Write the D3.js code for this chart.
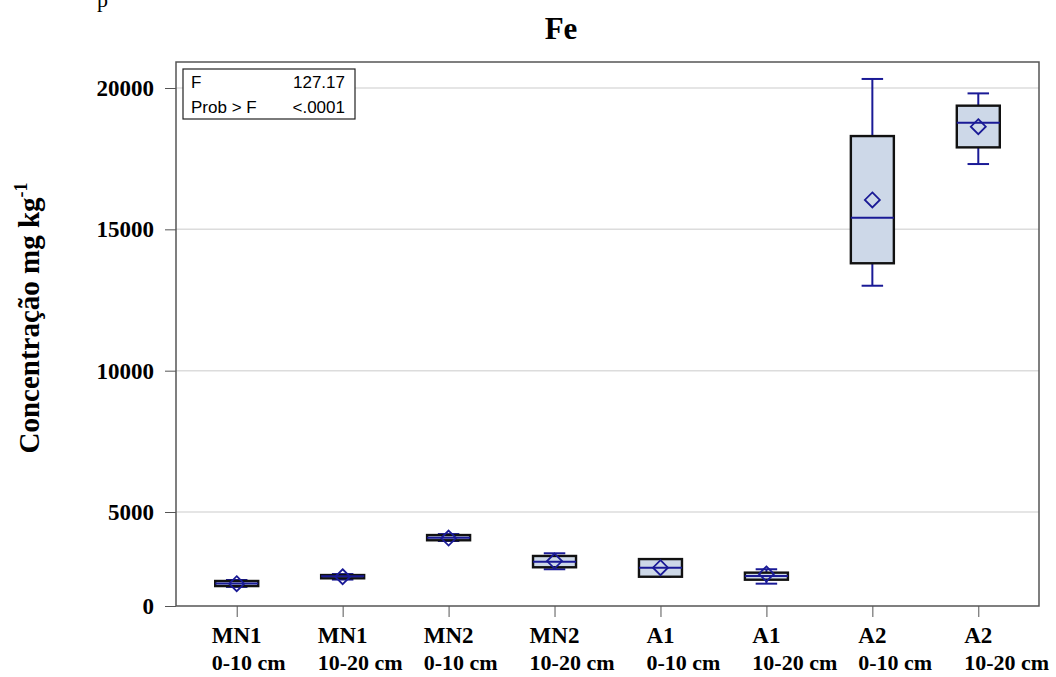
<!DOCTYPE html>
<html>
<head>
<meta charset="utf-8">
<script src="https://cdn.jsdelivr.net/npm/d3@7"></script>
<style>
  body { margin: 0; background: #fff; }
  svg { display: block; }
</style>
</head>
<body>
<div id="chart"></div>
<script>
// Box plot data (mg/kg)
var sites = ["MN1", "MN1", "MN2", "MN2", "A1", "A1", "A2", "A2"];
var depths = ["0-10 cm", "10-20 cm", "0-10 cm", "10-20 cm", "0-10 cm", "10-20 cm", "0-10 cm", "10-20 cm"];
var whiskerLow  = [2350, 2610, 3975, 2975, 2710, 2465, 13005, 17310];
var q1          = [2380, 2655, 4000, 3045, 2710, 2605, 13800, 17900];
var medians     = [2470, 2725, 4090, 3240, 3030, 2735, 15410, 18770];
var q3          = [2560, 2770, 4185, 3445, 3335, 2855, 18300, 19375];
var whiskerHigh = [2595, 2805, 4220, 3540, 3335, 2975, 20320, 19810];
var means       = [2465, 2710, 4080, 3265, 3030, 2810, 16040, 18630];

var yTicks = [5000, 10000, 15000, 20000];
var yMin = 1675, yMax = 20920;
var statLabels = ["F", "Prob > F"];
var statValues = ["127.17", "<.0001"];

var svgWidth = 1056;
var svgHeight = 677;
var margin = { top: 62, right: 17, bottom: 71, left: 176 };
var width = svgWidth - margin.left - margin.right;
var height = svgHeight - margin.top - margin.bottom;

var svg = d3.select("#chart")
  .append("svg")
  .attr("width", svgWidth)
  .attr("height", svgHeight);

// text fragment cut by the top edge, as in the source figure
svg.append("text")
  .attr("x", 97).attr("y", 7)
  .attr("font-family", "Liberation Serif")
  .attr("font-size", 22)
  .text("p");

svg.append("text")
  .attr("x", 561).attr("y", 39)
  .attr("text-anchor", "middle")
  .attr("font-family", "Liberation Serif")
  .attr("font-weight", "bold")
  .attr("font-size", 31)
  .text("Fe");

var chartGroup = svg.append("g")
  .attr("transform", `translate(${margin.left}, ${margin.top})`);

var x = d3.scalePoint()
  .domain(d3.range(sites.length))
  .range([0, width])
  .padding(0.573);

var y = d3.scaleLinear()
  .domain([yMin, yMax])
  .range([height, 0]);

// grid lines
chartGroup.selectAll(".grid")
  .data(yTicks)
  .enter()
  .append("line")
  .attr("x1", 0).attr("x2", width)
  .attr("y1", d => y(d)).attr("y2", d => y(d))
  .attr("stroke", "#dcdcdc")
  .attr("stroke-width", 1.5);

// axes
var leftAxis = d3.axisLeft(y)
  .tickValues([yMin].concat(yTicks))
  .tickFormat(d => d === yMin ? "0" : d)
  .tickSize(11)
  .tickPadding(11);

var yAxisG = chartGroup.append("g").call(leftAxis);
yAxisG.selectAll("text")
  .attr("font-family", "Liberation Serif")
  .attr("font-weight", "bold")
  .attr("font-size", 23)
  .attr("fill", "#000");
yAxisG.selectAll("line").attr("stroke", "#555");
yAxisG.select(".domain").remove();

var bottomAxis = d3.axisBottom(x).tickSize(11).tickFormat("");
var xAxisG = chartGroup.append("g")
  .attr("transform", `translate(0, ${height})`)
  .call(bottomAxis);
xAxisG.selectAll("line").attr("stroke", "#555");
xAxisG.select(".domain").remove();

// two-line category labels: first line centered, second aligned to its start
sites.forEach(function(s, i) {
  var t1 = chartGroup.append("text")
    .attr("x", x(i)).attr("y", height + 37)
    .attr("text-anchor", "middle")
    .attr("font-family", "Liberation Serif")
    .attr("font-weight", "bold")
    .attr("font-size", 23)
    .text(s);
  var startX = t1.node().getBBox().x;
  chartGroup.append("text")
    .attr("x", startX).attr("y", height + 64)
    .attr("font-family", "Liberation Serif")
    .attr("font-weight", "bold")
    .attr("font-size", 22)
    .text(depths[i]);
});

// plot frame
chartGroup.append("rect")
  .attr("width", width).attr("height", height)
  .attr("fill", "none")
  .attr("stroke", "#555")
  .attr("stroke-width", 1.5);

// boxes
var boxW = 43;
var navy = "#1a1a96";
var boxes = chartGroup.selectAll(".box")
  .data(d3.range(sites.length))
  .enter()
  .append("g")
  .attr("transform", i => `translate(${x(i)}, 0)`);

boxes.append("line")
  .attr("y1", i => y(whiskerHigh[i])).attr("y2", i => y(q3[i]))
  .attr("stroke", navy).attr("stroke-width", 2);
boxes.append("line")
  .attr("y1", i => y(q1[i])).attr("y2", i => y(whiskerLow[i]))
  .attr("stroke", navy).attr("stroke-width", 2);
boxes.append("line")
  .attr("x1", -boxW / 4).attr("x2", boxW / 4)
  .attr("y1", i => y(whiskerHigh[i])).attr("y2", i => y(whiskerHigh[i]))
  .attr("stroke", navy).attr("stroke-width", 2);
boxes.append("line")
  .attr("x1", -boxW / 4).attr("x2", boxW / 4)
  .attr("y1", i => y(whiskerLow[i])).attr("y2", i => y(whiskerLow[i]))
  .attr("stroke", navy).attr("stroke-width", 2);

boxes.append("rect")
  .attr("x", -boxW / 2).attr("width", boxW)
  .attr("y", i => y(q3[i]))
  .attr("height", i => y(q1[i]) - y(q3[i]))
  .attr("fill", "#cdd8e8")
  .attr("stroke", "#111")
  .attr("stroke-width", 2.4);

boxes.append("line")
  .attr("x1", -boxW / 2).attr("x2", boxW / 2)
  .attr("y1", i => y(medians[i])).attr("y2", i => y(medians[i]))
  .attr("stroke", navy).attr("stroke-width", 2);

boxes.append("path")
  .attr("d", "M0,-7.5L7.5,0L0,7.5L-7.5,0Z")
  .attr("transform", i => `translate(0, ${y(means[i])})`)
  .attr("fill", "none")
  .attr("stroke", navy)
  .attr("stroke-width", 1.8);

// statistics inset
var inset = svg.append("g").attr("transform", "translate(183, 69)");
inset.append("rect")
  .attr("width", 172).attr("height", 50)
  .attr("fill", "#fff")
  .attr("stroke", "#222")
  .attr("stroke-width", 1.2);
statLabels.forEach(function(lbl, i) {
  inset.append("text")
    .attr("x", 8).attr("y", 19 + i * 25)
    .attr("font-family", "Liberation Sans")
    .attr("font-size", 17)
    .text(lbl);
  inset.append("text")
    .attr("x", 162).attr("y", 19 + i * 25)
    .attr("text-anchor", "end")
    .attr("font-family", "Liberation Sans")
    .attr("font-size", 17)
    .text(statValues[i]);
});

// y axis title
var yTitle = svg.append("text")
  .attr("transform", "translate(39, 318) rotate(-90)")
  .attr("text-anchor", "middle")
  .attr("font-family", "Liberation Serif")
  .attr("font-weight", "bold")
  .attr("font-size", 29);
yTitle.append("tspan").text("Concentração mg kg");
yTitle.append("tspan")
  .attr("dy", -12)
  .attr("font-size", 18)
  .text("-1");
</script>
</body>
</html>
